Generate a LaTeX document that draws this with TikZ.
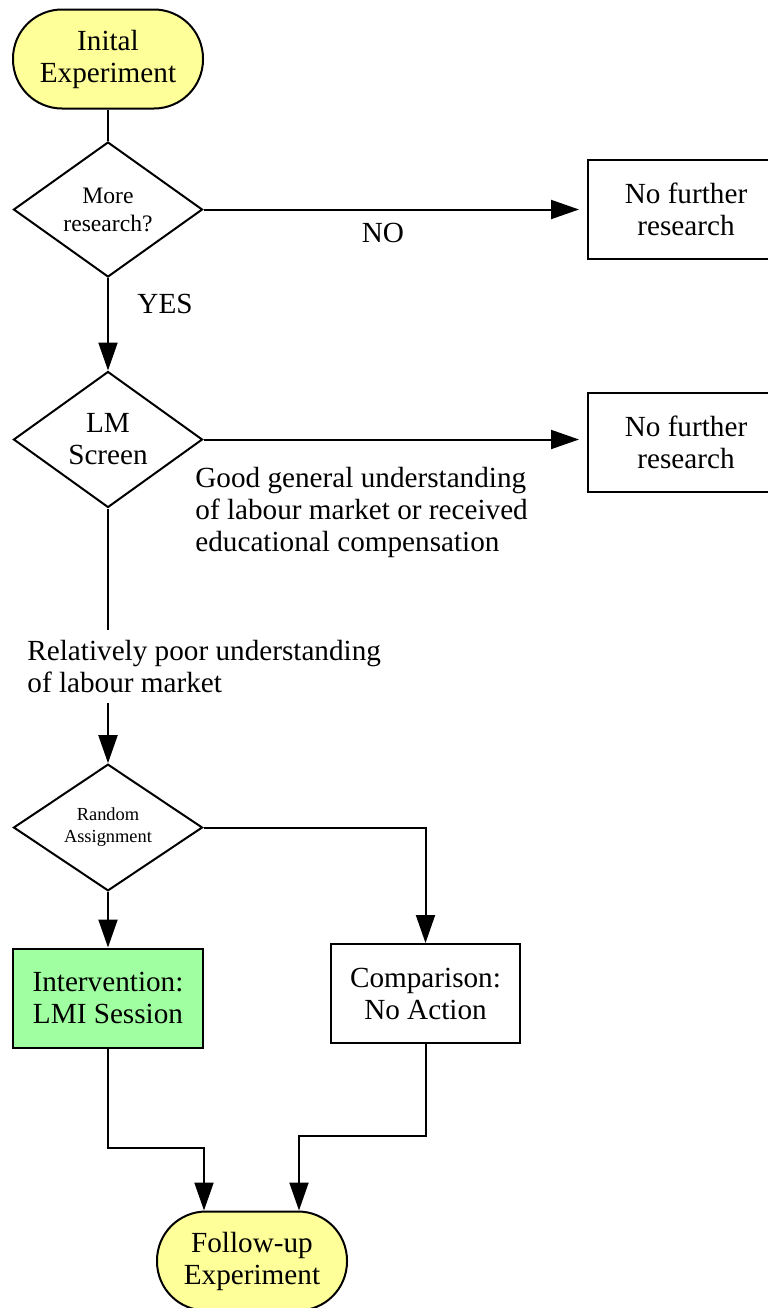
\documentclass[tikz,border=0pt]{standalone}
\usepackage{fontspec}
\setmainfont{Liberation Serif}
\usetikzlibrary{shapes.geometric,arrows.meta}

\definecolor{termyellow}{HTML}{FFFF99}
\definecolor{actgreen}{HTML}{A0FFA0}

\tikzset{
  terminal/.style={draw, line width=1pt, fill=termyellow, rectangle, rounded corners=24.5pt,
    minimum width=95pt, minimum height=49.5pt, align=center},
  decision/.style={draw, line width=1pt, diamond, minimum width=94.5pt, minimum height=67.5pt,
    inner sep=0pt, align=center},
  process/.style={draw, line width=1pt, rectangle, minimum width=95pt, minimum height=49.5pt,
    align=center},
  conn/.style={line width=1pt},
  arr/.style={line width=1pt, -{Triangle[length=14pt,width=9.5pt]}},
}

\begin{document}
\begin{tikzpicture}[x=0.5pt, y=-0.5pt, every node/.style={font=\fontsize{14.6}{16}\selectfont}]
\useasboundingbox (0,0) rectangle (767,1308);
% Draw start and end
\node[terminal] (init) at (108,59) {Inital\\Experiment};
\node[terminal] (fup) at (252,1261) {Follow-up\\Experiment};
% Draw decisions
\node[decision, font=\fontsize{11.8}{14}\selectfont] (more) at (108,209.5) {More\\research?};
\node[decision, minimum height=68pt] (lm) at (108,439.5) {LM\\Screen};
\node[decision, minimum height=62.5pt, font=\fontsize{9.2}{11}\selectfont] (ra) at (108,827.5) {Random\\Assignment};
% Draw boxes
\node[process, minimum width=98pt] (nf1) at (686,209) {No further\\research};
\node[process, minimum width=98pt] (nf2) at (686,442.5) {No further\\research};
\node[process, fill=actgreen] (lmi) at (108,998) {Intervention:\\LMI Session};
\node[process, minimum width=94.5pt] (cmp) at (425.5,993.5) {Comparison:\\No Action};
% Draw labels
\node (no) at (383,233) {NO};
\node (yes) at (165,304) {YES};
\node[anchor=north west, align=left, inner sep=0pt] (good) at (195,467)
  {Good general understanding\\of labour market or received\\educational compensation};
\node[anchor=north west, align=left, inner xsep=0pt, inner ysep=5pt] (poor) at (27,630)
  {Relatively poor understanding\\of labour market};
% Draw connectors
\coordinate (j1) at (204,1148);
\coordinate (j2) at (299,1136);
\draw[conn] (init.south) -- (more.north);
\draw[arr, shorten >=4pt] (more.east) -- (more.east -| nf1.west);
\draw[arr] (more.south) -- (lm.north);
\draw[arr, shorten >=4pt] (lm.east) -- (lm.east -| nf2.west);
\draw[conn] (lm.south) -- (lm.south |- poor.north);
\draw[arr] (lm.south |- poor.south) -- (ra.north);
\draw[arr] (ra.south) -- (lmi.north);
\draw[arr] (ra.east) -| (cmp.north);
\draw[arr] (lmi.south) |- (j1) -- (j1 |- fup.north);
\draw[arr] (cmp.south) |- (j2) -- (j2 |- fup.north);
\end{tikzpicture}
\end{document}
